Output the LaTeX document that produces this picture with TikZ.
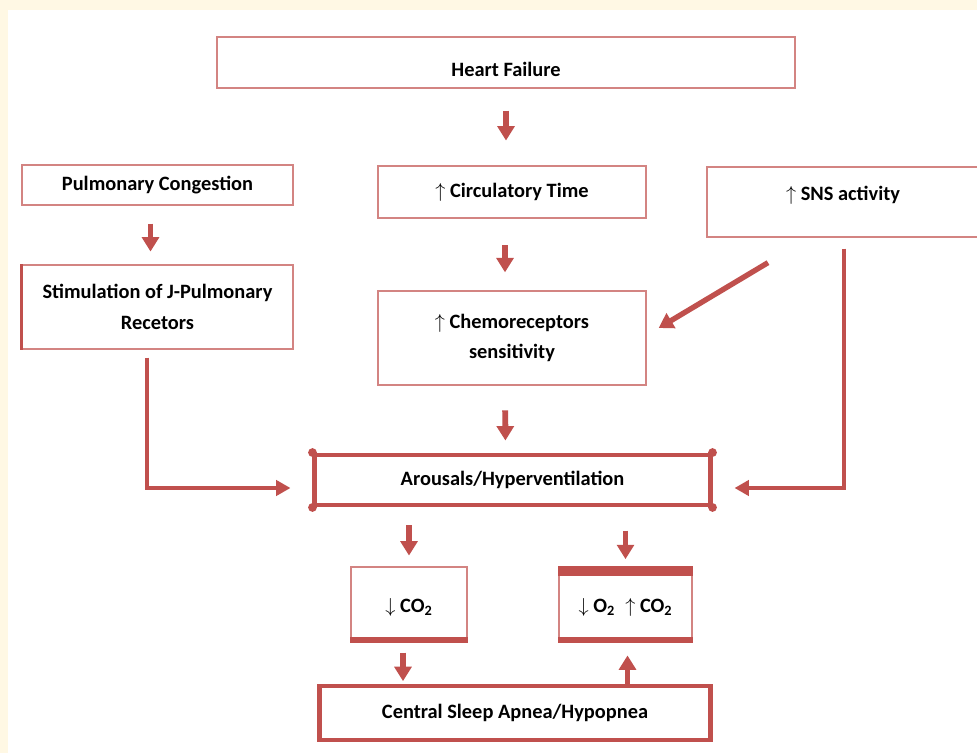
\documentclass[tikz,border=0pt]{standalone}
\usepackage{fontspec}
\setmainfont{Carlito}
\usetikzlibrary{calc,arrows.meta}
\definecolor{flowred}{HTML}{C0504D}
\definecolor{paper}{HTML}{FFF8E4}

\begin{document}
\begin{tikzpicture}[x=0.025cm,y=-0.025cm,
    box/.style={draw=flowred!70,line width=0.9pt,fill=white,inner sep=0pt,
        align=center,font=\fontsize{14.5}{21.5}\selectfont\bfseries},
    heavybox/.style={box,draw=flowred,line width=3.5pt},
    arr/.style={draw=flowred,line width=4.2pt,-{Triangle[width=0.42cm,length=0.36cm]}},
    elbow/.style={draw=flowred,line width=2.9pt,-{Triangle[width=0.38cm,length=0.36cm]}}]

% page
\useasboundingbox (0,0) rectangle (977,753);
\fill[paper] (0,0) rectangle (977,753);
\fill[white] (8,10) rectangle (977,753);

\node[box,minimum width=14.45cm,minimum height=1.275cm,text height=0.7cm,text depth=0.02cm] (hf) at (506,62.5) {Heart Failure};

\node[box,minimum width=6.775cm,minimum height=1cm] (pc) at (157.5,185) {Pulmonary Congestion};
\node[box,minimum width=6.7cm,minimum height=1.3cm] (ct) at (512,192) {$\uparrow$ Circulatory Time};
\node[box,minimum width=6.8cm,minimum height=1.75cm,text height=0.35cm,text depth=0.41cm] (sns) at (843,202) {$\uparrow$ SNS activity};

\node[box,minimum width=6.775cm,minimum height=2.1cm] (stim) at (157.5,307)
    {Stimulation of J-Pulmonary\\Recetors};
\node[box,minimum width=6.7cm,minimum height=2.35cm] (chemo) at (512,338)
    {$\uparrow$ Chemoreceptors\\sensitivity};

\node[heavybox,minimum width=9.875cm,minimum height=1.25cm] (ar) at (512.5,480) {Arousals/Hyperventilation};

\node[box,minimum width=2.9cm,minimum height=1.875cm,text height=0.45cm,text depth=0.05cm] (co) at (409,604.5) {$\downarrow$ CO\textsubscript{2}};
\node[box,minimum width=3.325cm,minimum height=1.875cm,text height=0.45cm,text depth=0.05cm] (oc) at (625.5,604.5)
    {$\downarrow$ O\textsubscript{2}\enspace$\uparrow$ CO\textsubscript{2}};

\node[heavybox,minimum width=9.75cm,minimum height=1.35cm] (csa) at (515,713) {Central Sleep Apnea/Hypopnea};

% heavy edges
\draw[flowred,line width=2.2pt] (stim.south west) -- (stim.north west);
\fill[flowred] (co.south west) rectangle ($(co.south east)+(0,-6)$);
\fill[flowred] (oc.south west) rectangle ($(oc.south east)+(0,-6)$);
\fill[flowred] (oc.north west) rectangle ($(oc.north east)+(0,10)$);
\foreach \c in {north west,north east,south west,south east}
    \fill[flowred] (ar.\c) circle (0.11cm);

% arrows
\draw[arr,shorten <=0.55cm,shorten >=0.62cm] (hf.south) -- (hf.south |- ct.north);
\draw[arr,shorten <=0.45cm,shorten >=0.32cm] ($(pc.south)+(-7,0)$) -- ($(stim.north)+(-7,0)$);
\draw[arr,shorten <=0.67cm,shorten >=0.45cm] ($(ct.south)+(-7,0)$) -- ($(chemo.north)+(-7,0)$);
\draw[arr,shorten <=0.62cm,shorten >=0.3cm] ($(chemo.south)+(-7,0)$) -- ($(ar.north)+(-7,0)$);
\draw[arr,shorten <=0.45cm,shorten >=0.27cm] (ar.south -| co.south) -- (co.north);
\draw[arr,shorten <=0.58cm,shorten >=0.18cm] (ar.south -| oc.south) -- (oc.north);
\draw[arr,shorten <=0.25cm,shorten >=0.06cm] ($(co.south)+(-6,0)$) -- ($(csa.north -| co.south)+(-6,0)$);
\draw[arr,shorten >=0.32cm] ($(csa.north -| oc.south)+(2,0)$) -- ($(oc.south)+(2,0)$);

\draw[arr,line width=3.8pt] ($(sns.south)+(-75,25)$) -- ($(chemo.east)+(12,-10)$);
\draw[elbow] ($(sns.south)+(1,11)$) |- ($(ar.east)+(22,8)$);
\draw[elbow] ($(stim.south)+(-10.5,8)$) |- ($(ar.west)+(-22,8)$);

\end{tikzpicture}
\end{document}
